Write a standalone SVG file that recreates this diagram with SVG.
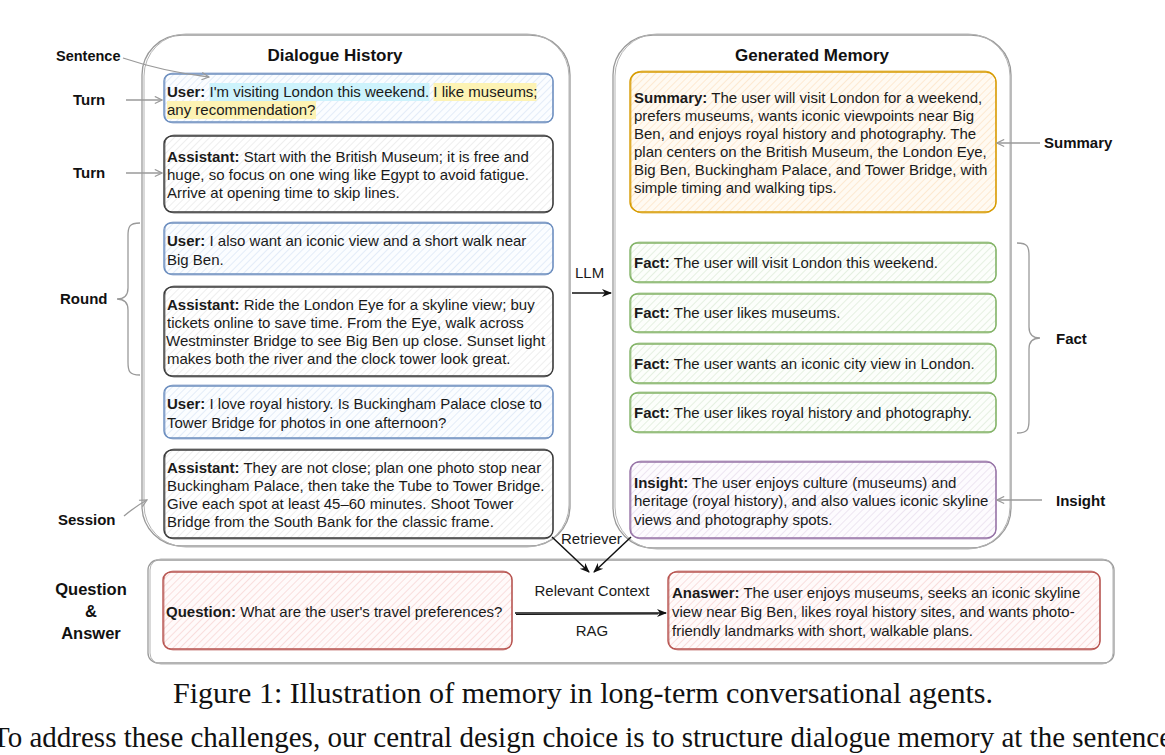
<svg xmlns="http://www.w3.org/2000/svg" width="1165" height="755" viewBox="0 0 1165 755">
<defs>
<style>
.t{font-family:"Liberation Sans",Arial,Helvetica,sans-serif;font-size:15px;fill:#1a1a1a}
.b{font-weight:bold}
.lbl{font-family:"Liberation Sans",Arial,Helvetica,sans-serif;font-size:15px;font-weight:bold;fill:#111}
.title{font-family:"Liberation Sans",Arial,Helvetica,sans-serif;font-size:17px;font-weight:bold;fill:#111;text-anchor:middle}
.cap{font-family:"Liberation Serif","Times New Roman",serif;font-size:29px;fill:#111}
.cont{fill:#fff;stroke:#9a9a9a;stroke-width:1.3}
.blue{stroke:#6c8ebf;stroke-width:1.4;fill:url(#hBlue)}
.dark{stroke:#3a3a3a;stroke-width:1.4;fill:url(#hGray)}
.orange{stroke:#d79b00;stroke-width:1.4;fill:url(#hOrange)}
.green{stroke:#82b366;stroke-width:1.4;fill:url(#hGreen)}
.purple{stroke:#9673a6;stroke-width:1.4;fill:url(#hPurple)}
.red{stroke:#b85450;stroke-width:1.4;fill:url(#hRed)}
.dup{fill:none;stroke-width:.9;opacity:.7}
.gl{fill:none;stroke:#9a9a9a;stroke-width:1.3}
.bl{fill:none;stroke:#111;stroke-width:1.5}
</style>
<pattern id="hBlue" width="5" height="5" patternUnits="userSpaceOnUse" patternTransform="rotate(45)"><rect width="5" height="5" fill="#fbfdff"/><line x1="0" y1="0" x2="0" y2="5" stroke="#cbdcf2" stroke-width="1"/></pattern>
<pattern id="hGray" width="5" height="5" patternUnits="userSpaceOnUse" patternTransform="rotate(45)"><rect width="5" height="5" fill="#fff"/><line x1="0" y1="0" x2="0" y2="5" stroke="#dedede" stroke-width="1"/></pattern>
<pattern id="hOrange" width="5" height="5" patternUnits="userSpaceOnUse" patternTransform="rotate(45)"><rect width="5" height="5" fill="#fffaf2"/><line x1="0" y1="0" x2="0" y2="5" stroke="#fcdcb6" stroke-width="1.1"/></pattern>
<pattern id="hGreen" width="5" height="5" patternUnits="userSpaceOnUse" patternTransform="rotate(45)"><rect width="5" height="5" fill="#fcfefb"/><line x1="0" y1="0" x2="0" y2="5" stroke="#cfe3c8" stroke-width="1"/></pattern>
<pattern id="hPurple" width="5" height="5" patternUnits="userSpaceOnUse" patternTransform="rotate(45)"><rect width="5" height="5" fill="#fdfbfe"/><line x1="0" y1="0" x2="0" y2="5" stroke="#ddd0e4" stroke-width="1"/></pattern>
<pattern id="hRed" width="5" height="5" patternUnits="userSpaceOnUse" patternTransform="rotate(45)"><rect width="5" height="5" fill="#fffafa"/><line x1="0" y1="0" x2="0" y2="5" stroke="#f3c2c0" stroke-width="1"/></pattern>
<marker id="open" viewBox="0 0 10 10" refX="9" refY="5" markerWidth="9" markerHeight="9" markerUnits="userSpaceOnUse" orient="auto"><path d="M1,1 L9,5 L1,9" fill="none" stroke="#9a9a9a" stroke-width="1.3"/></marker>
<marker id="solid" viewBox="0 0 10 10" refX="9" refY="5" markerWidth="10" markerHeight="10" markerUnits="userSpaceOnUse" orient="auto"><path d="M0,1 L10,5 L0,9 L3,5 Z" fill="#111"/></marker>
</defs>
<rect width="1165" height="755" fill="#fff"/>

<g id="dialogue-history">
<rect x="142" y="35" width="428" height="511" rx="40" class="cont"/>
<rect x="144" y="34" width="425" height="513" rx="42" fill="none" stroke="#b4b4b4" stroke-width="1"/>
<text x="335" y="61" class="title">Dialogue History</text>
</g>

<g id="generated-memory">
<rect x="613" y="35" width="398" height="513" rx="40" class="cont"/>
<rect x="615" y="34" width="395" height="515" rx="42" fill="none" stroke="#b4b4b4" stroke-width="1"/>
<text x="812" y="61" class="title">Generated Memory</text>
</g>

<g id="qa-container">
<rect x="148" y="560" width="966" height="103" rx="10" class="cont"/>
<rect x="150" y="559" width="963" height="105" rx="11" fill="none" stroke="#b4b4b4" stroke-width="1"/>
</g>

<g id="turn-user-1">
<rect x="164" y="74" width="389" height="48" rx="7" class="blue"/>
<rect x="165" y="73" width="388" height="50" rx="8" class="blue dup"/>
<rect x="209.5" y="83" width="220" height="18" fill="#cdf3fc"/>
<rect x="433.5" y="83" width="103" height="18" fill="#fdf3b4"/>
<rect x="167" y="101" width="149" height="18" fill="#fdf3b4"/>
<text x="167" y="97" class="t"><tspan class="b">User:</tspan> I'm visiting London this weekend. I like museums;</text>
<text x="167" y="115" class="t">any recommendation?</text>
</g>

<g id="turn-assistant-1">
<rect x="164" y="136" width="389" height="76" rx="8" class="dark"/>
<rect x="165" y="135" width="388" height="78" rx="9" class="dark dup"/>
<text x="167" y="162" class="t"><tspan class="b">Assistant:</tspan> Start with the British Museum; it is free and</text>
<text x="167" y="180" class="t">huge, so focus on one wing like Egypt to avoid fatigue.</text>
<text x="167" y="198" class="t">Arrive at opening time to skip lines.</text>
</g>

<g id="turn-user-2">
<rect x="164" y="223" width="389" height="51" rx="7" class="blue"/>
<rect x="165" y="222" width="388" height="53" rx="8" class="blue dup"/>
<text x="167" y="246" class="t"><tspan class="b">User:</tspan> I also want an iconic view and a short walk near</text>
<text x="167" y="265" class="t">Big Ben.</text>
</g>

<g id="turn-assistant-2">
<rect x="164" y="287" width="389" height="89" rx="8" class="dark"/>
<rect x="165" y="286" width="388" height="91" rx="9" class="dark dup"/>
<text x="167" y="310" class="t"><tspan class="b">Assistant:</tspan> Ride the London Eye for a skyline view; buy</text>
<text x="167" y="328" class="t">tickets online to save time. From the Eye, walk across</text>
<text x="166" y="346" class="t">Westminster Bridge to see Big Ben up close. Sunset light</text>
<text x="167" y="364" class="t">makes both the river and the clock tower look great.</text>
</g>

<g id="turn-user-3">
<rect x="164" y="386" width="389" height="52" rx="7" class="blue"/>
<rect x="165" y="385" width="388" height="54" rx="8" class="blue dup"/>
<text x="167" y="409" class="t"><tspan class="b">User:</tspan> I love royal history. Is Buckingham Palace close to</text>
<text x="167" y="428" class="t">Tower Bridge for photos in one afternoon?</text>
</g>

<g id="turn-assistant-3">
<rect x="164" y="450" width="389" height="88" rx="8" class="dark"/>
<rect x="165" y="449" width="388" height="90" rx="9" class="dark dup"/>
<text x="167" y="473" class="t"><tspan class="b">Assistant:</tspan> They are not close; plan one photo stop near</text>
<text x="167" y="491" class="t">Buckingham Palace, then take the Tube to Tower Bridge.</text>
<text x="167" y="509" class="t">Give each spot at least 45–60 minutes. Shoot Tower</text>
<text x="167" y="527" class="t">Bridge from the South Bank for the classic frame.</text>
</g>

<g id="summary">
<rect x="630" y="72" width="366" height="140" rx="10" class="orange"/>
<rect x="631" y="71" width="365" height="142" rx="11" class="orange dup"/>
<text x="634" y="103" class="t"><tspan class="b">Summary:</tspan> The user will visit London for a weekend,</text>
<text x="634" y="121" class="t">prefers museums, wants iconic viewpoints near Big</text>
<text x="634" y="139" class="t">Ben, and enjoys royal history and photography. The</text>
<text x="634" y="157" class="t">plan centers on the British Museum, the London Eye,</text>
<text x="634" y="175" class="t">Big Ben, Buckingham Palace, and Tower Bridge, with</text>
<text x="634" y="193" class="t">simple timing and walking tips.</text>
</g>

<g id="fact-1">
<rect x="630" y="243" width="366" height="39" rx="7" class="green"/>
<rect x="631" y="242" width="365" height="41" rx="8" class="green dup"/>
<text x="634" y="268" class="t"><tspan class="b">Fact:</tspan> The user will visit London this weekend.</text>
</g>
<g id="fact-2">
<rect x="630" y="294" width="366" height="38" rx="7" class="green"/>
<rect x="631" y="293" width="365" height="40" rx="8" class="green dup"/>
<text x="634" y="318" class="t"><tspan class="b">Fact:</tspan> The user likes museums.</text>
</g>
<g id="fact-3">
<rect x="630" y="344" width="366" height="39" rx="7" class="green"/>
<rect x="631" y="343" width="365" height="41" rx="8" class="green dup"/>
<text x="634" y="369" class="t"><tspan class="b">Fact:</tspan> The user wants an iconic city view in London.</text>
</g>
<g id="fact-4">
<rect x="630" y="393" width="366" height="39" rx="7" class="green"/>
<rect x="631" y="392" width="365" height="41" rx="8" class="green dup"/>
<text x="634" y="418" class="t"><tspan class="b">Fact:</tspan> The user likes royal history and photography.</text>
</g>

<g id="insight">
<rect x="630" y="462" width="366" height="76" rx="9" class="purple"/>
<rect x="631" y="461" width="365" height="78" rx="10" class="purple dup"/>
<text x="634" y="488" class="t"><tspan class="b">Insight:</tspan> The user enjoys culture (museums) and</text>
<text x="634" y="506" class="t">heritage (royal history), and also values iconic skyline</text>
<text x="634" y="525" class="t">views and photography spots.</text>
</g>

<g id="question">
<rect x="163" y="572" width="349" height="77" rx="8" class="red"/>
<rect x="164" y="571" width="348" height="79" rx="9" class="red dup"/>
<text x="166" y="617" class="t"><tspan class="b">Question:</tspan> What are the user's travel preferences?</text>
</g>

<g id="answer">
<rect x="668" y="572" width="432" height="77" rx="8" class="red"/>
<rect x="669" y="571" width="431" height="79" rx="9" class="red dup"/>
<text x="672" y="598" class="t"><tspan class="b">Anaswer:</tspan> The user enjoys museums, seeks an iconic skyline</text>
<text x="672" y="617" class="t">view near Big Ben, likes royal history sites, and wants photo-</text>
<text x="672" y="636" class="t">friendly landmarks with short, walkable plans.</text>
</g>

<g id="labels">
<text x="56" y="61" class="lbl" style="font-size:14.5px">Sentence</text>
<text x="73" y="105" class="lbl">Turn</text>
<text x="73" y="178" class="lbl">Turn</text>
<text x="60" y="304" class="lbl">Round</text>
<text x="58" y="525" class="lbl">Session</text>
<text x="91" y="595" class="lbl" style="font-size:16.5px;text-anchor:middle">Question</text>
<text x="91" y="617" class="lbl" style="font-size:16.5px;text-anchor:middle">&amp;</text>
<text x="91" y="639" class="lbl" style="font-size:16.5px;text-anchor:middle">Answer</text>
<text x="1044" y="148" class="lbl">Summary</text>
<text x="1056" y="344" class="lbl">Fact</text>
<text x="1056" y="506" class="lbl">Insight</text>
</g>

<g id="connectors">
<path d="M123,58 Q165,72 209,77" class="gl" marker-end="url(#open)"/>
<path d="M126,100 L162,100" class="gl" marker-end="url(#open)"/>
<path d="M126,173 L162,173" class="gl" marker-end="url(#open)"/>
<path d="M124,516 Q136,506 147,500" class="gl" marker-end="url(#open)"/>
<path d="M140,223 C129,223 128,227 128,236 L128,288 C128,296 124,299 117,299 C124,299 128,302 128,310 L128,362 C128,371 129,375 140,375" class="gl"/>
<path d="M1040,143 L997,143" class="gl" marker-end="url(#open)"/>
<path d="M1017,243 C1028,243 1029,247 1029,256 L1029,327 C1029,335 1033,338 1040,338 C1033,338 1029,341 1029,349 L1029,420 C1029,429 1028,433 1017,433" class="gl"/>
<path d="M1042,500 L997,500" class="gl" marker-end="url(#open)"/>
<path d="M572,293 L611,293" class="bl" marker-end="url(#solid)"/>
<text x="575" y="278" class="t">LLM</text>
<path d="M552,537 L589,572" class="bl" marker-end="url(#solid)"/>
<path d="M631,537 L594,572" class="bl" marker-end="url(#solid)"/>
<text x="561" y="544" class="t">Retriever</text>
<path d="M515,613 L666,613" class="bl" stroke-width="2" marker-end="url(#solid)"/>
<path d="M516,614.5 L658,614" fill="none" stroke="#111" stroke-width="1"/>
<text x="592" y="596" class="t" text-anchor="middle">Relevant Context</text>
<text x="592" y="636" class="t" text-anchor="middle">RAG</text>
</g>

<g id="caption">
<text x="173" y="703" class="cap" textLength="820" lengthAdjust="spacingAndGlyphs">Figure 1: Illustration of memory in long-term conversational agents.</text>
<text x="-8" y="747" class="cap">To address these challenges, our central design choice is to structure dialogue memory at the sentence</text>
</g>
</svg>
